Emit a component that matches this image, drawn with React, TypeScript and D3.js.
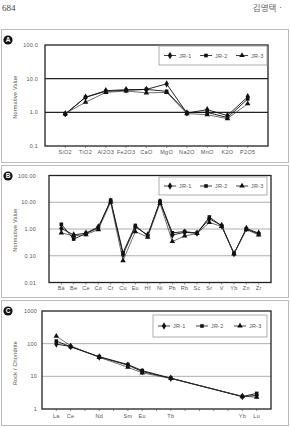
import React from "react";
import * as d3 from "d3";

// Major oxides (panel A)
const oxides = ["SiO2", "TiO2", "Al2O3", "Fe2O3", "CaO", "MgO", "Na2O", "MnO", "K2O", "P2O5"];
const jr1Oxide = [0.9, 2.8, 4.4, 4.7, 4.8, 7.0, 0.95, 1.2, 0.8, 2.9];
const jr2Oxide = [0.88, 2.8, 4.2, 4.5, 4.8, 4.2, 0.98, 1.0, 0.7, 2.5];
const jr3Oxide = [0.92, 2.0, 3.9, 4.3, 3.8, 3.9, 0.92, 0.85, 0.65, 1.8];

// Trace elements (panel B)
const traces = ["Ba", "Be", "Ce", "Co", "Cr", "Cu", "Eu", "Hf", "Ni", "Pb", "Rb", "Sc", "Sr", "V", "Yb", "Zn", "Zr"];
const jr1Trace = [1.05, 0.6, 0.7, 1.2, 11, 0.11, 1.2, 0.6, 10.5, 0.6, 0.75, 0.7, 2.4, 1.35, 0.12, 1.05, 0.7];
const jr2Trace = [1.5, 0.42, 0.68, 1.1, 12, 0.13, 1.35, 0.55, 11, 0.72, 0.8, 0.7, 2.8, 1.3, 0.12, 1.0, 0.65];
const jr3Trace = [0.72, 0.55, 0.62, 0.95, 10, 0.065, 0.8, 0.5, 9, 0.34, 0.55, 0.68, 1.75, 1.25, 0.12, 0.95, 0.6];

// Rare earth elements normalised to chondrite (panel C)
const reeSeq = ["La", "Ce", "Pr", "Nd", "Pm", "Sm", "Eu", "Gd", "Tb", "Dy", "Ho", "Er", "Tm", "Yb", "Lu"];
const reeMeasured = ["La", "Ce", "Nd", "Sm", "Eu", "Tb", "Yb", "Lu"];
const jr1Ree = [97, 82, 39, 22, 14, 8.7, 2.4, 2.6];
const jr2Ree = [120, 80, 40, 23, 15, 8.8, 2.4, 3.0];
const jr3Ree = [170, 86, 38, 19, 12.8, 8.6, 2.45, 2.3];

const seriesNames = ["JR-1", "JR-2", "JR-3"];
const symbols = [d3.symbolDiamond, d3.symbolSquare, d3.symbolTriangle];
const symbolSizes = [16, 13, 13];

const FONT = "'Liberation Sans', Arial, sans-serif";

type PanelProps = {
  letter: string;
  frame: { x: number; y: number; w: number; h: number };
  plot: { x0: number; x1: number; y0: number; y1: number };
  domainCats: string[];
  cats: string[];
  series: number[][];
  yDomain: [number, number];
  yTicks: number[];
  yFmt: (v: number) => string;
  yLabelX: number;
  title: string;
  titleY: number;
  gridColor: string;
  gridWidth: number;
  legend: { x: number; y: number; w: number; h: number };
  labelY: number;
};

function Marker({ i, x, y }: { i: number; x: number; y: number }) {
  const path = d3.symbol().type(symbols[i]).size(symbolSizes[i])()!;
  return <path d={path} transform={`translate(${x},${y})`} fill="#111" />;
}

function Panel(p: PanelProps) {
  const x = d3.scalePoint<string>().domain(p.domainCats).range([p.plot.x0, p.plot.x1]).padding(1);
  const y = d3.scaleLog().domain(p.yDomain).range([p.plot.y1, p.plot.y0]);
  const line = d3
    .line<[string, number]>()
    .x((d) => x(d[0])!)
    .y((d) => y(d[1]));
  const legendStep = p.legend.w / 3;
  return (
    <g>
      <rect x={p.frame.x + 0.5} y={p.frame.y + 0.5} width={p.frame.w} height={p.frame.h} fill="none" stroke="#bbb" strokeWidth={1} />
      <circle cx={8} cy={p.frame.y + 11} r={4.6} fill="#111" />
      <text x={8} y={p.frame.y + 13.2} textAnchor="middle" fontSize={6.5} fontWeight="bold" fill="#fff" fontFamily={FONT}>
        {p.letter}
      </text>
      {p.yTicks.slice(1, -1).map((t) => (
        <line key={t} x1={p.plot.x0} x2={p.plot.x1} y1={y(t)} y2={y(t)} stroke={p.gridColor} strokeWidth={p.gridWidth} />
      ))}
      <rect x={p.plot.x0} y={p.plot.y0} width={p.plot.x1 - p.plot.x0} height={p.plot.y1 - p.plot.y0} fill="none" stroke="#222" strokeWidth={1.3} />
      {p.yTicks.map((t) => (
        <text key={t} x={p.yLabelX} y={y(t) + 2} textAnchor="end" fontSize={5.5} letterSpacing={0.2} fill="#555" fontFamily={FONT}>
          {p.yFmt(t)}
        </text>
      ))}
      {p.domainCats.map((c) => (
        <line key={c} x1={x(c)} x2={x(c)} y1={p.plot.y1} y2={p.plot.y1 + 2} stroke="#444" strokeWidth={0.6} />
      ))}
      {p.cats.map((c) => (
        <text key={c} x={x(c)} y={p.labelY} textAnchor="middle" fontSize={5.5} letterSpacing={0.3} fill="#555" fontFamily={FONT}>
          {c}
        </text>
      ))}
      <text
        transform={`translate(17,${p.titleY}) rotate(-90)`}
        textAnchor="middle"
        fontSize={5.5}
        letterSpacing={0.2}
        fill="#555"
        fontFamily={FONT}
      >
        {p.title}
      </text>
      {p.series.map((vals, i) => {
        const pts = p.cats.map((c, k) => [c, vals[k]] as [string, number]);
        return (
          <g key={i}>
            <path d={line(pts)!} fill="none" stroke={i === 2 ? "#333" : "#111"} strokeWidth={i === 2 ? 0.7 : 0.9} />
            {pts.map((d, k) => (
              <Marker key={k} i={i} x={x(d[0])!} y={y(d[1])} />
            ))}
          </g>
        );
      })}
      <rect x={p.legend.x} y={p.legend.y} width={p.legend.w} height={p.legend.h} fill="#fff" stroke="#999" strokeWidth={0.8} />
      {seriesNames.map((n, i) => {
        const cx = p.legend.x + 11 + i * legendStep;
        const cy = p.legend.y + p.legend.h / 2;
        return (
          <g key={n}>
            <line x1={cx - 6} x2={cx + 6} y1={cy} y2={cy} stroke="#111" strokeWidth={0.8} />
            <Marker i={i} x={cx} y={cy} />
            <text x={cx + 9} y={cy + 2} fontSize={5.5} letterSpacing={0.2} fill="#555" fontFamily={FONT}>
              {n}
            </text>
          </g>
        );
      })}
    </g>
  );
}

export default function App() {
  return (
    <svg
      width={290}
      height={428}
      style={{ position: "fixed", left: 0, top: 0, background: "#fff" }}
    >
      <rect width={290} height={428} fill="#fff" />
      <text x={2} y={11} fontSize={9} fill="#444" fontFamily="'Liberation Serif', serif">
        684
      </text>
      <text x={283} y={11} textAnchor="end" fontSize={8.5} fill="#666" fontFamily="'Noto Sans CJK KR', sans-serif">
        김영택 ·
      </text>
      <Panel
        letter="A"
        frame={{ x: 1, y: 29, w: 287, h: 133 }}
        plot={{ x0: 45, x1: 268, y0: 45, y1: 146 }}
        domainCats={oxides}
        cats={oxides}
        series={[jr1Oxide, jr2Oxide, jr3Oxide]}
        yDomain={[0.1, 100]}
        yTicks={[0.1, 1, 10, 100]}
        yFmt={(v) => d3.format(".1f")(v)}
        yLabelX={38}
        title="Normative Value"
        titleY={97}
        gridColor="#222"
        gridWidth={1.2}
        legend={{ x: 159, y: 46, w: 108, h: 19 }}
        labelY={154}
      />
      <Panel
        letter="B"
        frame={{ x: 1, y: 165, w: 287, h: 132 }}
        plot={{ x0: 49, x1: 271, y0: 175.5, y1: 282.5 }}
        domainCats={traces}
        cats={traces}
        series={[jr1Trace, jr2Trace, jr3Trace]}
        yDomain={[0.01, 100]}
        yTicks={[0.01, 0.1, 1, 10, 100]}
        yFmt={(v) => d3.format(".2f")(v)}
        yLabelX={36}
        title="Normative Value"
        titleY={230}
        gridColor="#999"
        gridWidth={0.8}
        legend={{ x: 159, y: 177, w: 108, h: 18 }}
        labelY={290}
      />
      <Panel
        letter="C"
        frame={{ x: 1, y: 300, w: 287, h: 125 }}
        plot={{ x0: 42, x1: 271, y0: 311, y1: 409 }}
        domainCats={reeSeq}
        cats={reeMeasured}
        series={[jr1Ree, jr2Ree, jr3Ree]}
        yDomain={[1, 1000]}
        yTicks={[1, 10, 100, 1000]}
        yFmt={(v) => d3.format("d")(v)}
        yLabelX={37}
        title="Rock / Chondrite"
        titleY={363}
        gridColor="#999"
        gridWidth={0.8}
        legend={{ x: 153, y: 315, w: 114, h: 22 }}
        labelY={418}
      />
    </svg>
  );
}
